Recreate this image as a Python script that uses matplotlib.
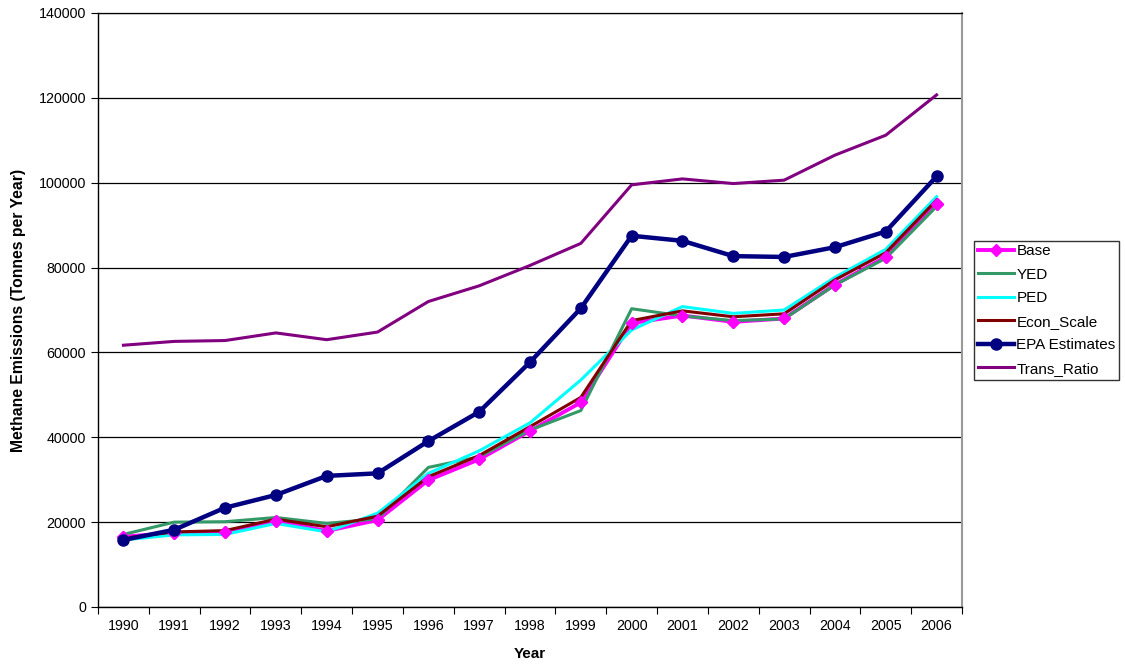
import matplotlib
matplotlib.use("Agg")
import matplotlib.pyplot as plt
import numpy as np

years = ["1990", "1991", "1992", "1993", "1994", "1995", "1996", "1997", "1998",
         "1999", "2000", "2001", "2002", "2003", "2004", "2005", "2006"]
base = [16600, 17400, 17600, 20300, 17900, 20500, 29900, 34800, 41500, 48200,
        66900, 68700, 67200, 68000, 76000, 82500, 94900]
yed = [17100, 20000, 20100, 21100, 19700, 20800, 32900, 35400, 41700, 46300,
       70300, 68600, 67500, 67900, 75900, 82200, 94400]
ped = [15800, 17000, 17100, 19700, 17700, 22100, 31500, 36800, 43400, 53500,
       65300, 70800, 69200, 70000, 77700, 84300, 96700]
econ_scale = [16200, 17700, 18000, 20700, 18900, 21400, 30700, 35700, 42500, 49400,
              67500, 69800, 68400, 69100, 77100, 83500, 95900]
epa = [15800, 18200, 23400, 26400, 30900, 31500, 39100, 46000, 57700, 70400,
       87500, 86300, 82700, 82500, 84800, 88500, 101500]
trans_ratio = [61700, 62600, 62800, 64600, 63000, 64800, 72000, 75700, 80500, 85700,
               99500, 100900, 99800, 100600, 106500, 111200, 120700]
y_ticks = [0, 20000, 40000, 60000, 80000, 100000, 120000, 140000]

plt.rcParams['font.family'] = ['Liberation Sans', 'DejaVu Sans']

fig = plt.figure(figsize=(11.25, 6.67), dpi=100)
ax = fig.add_axes([98/1125, 1-607/667, (962-98)/1125, (607-13)/667])

x = np.arange(len(years))
ax.plot(x, base, color='#FF00FF', lw=2.8, marker='D', ms=6.5, label='Base', zorder=3)
ax.plot(x, yed, color='#339966', lw=2.2, label='YED', zorder=3)
ax.plot(x, ped, color='#00FFFF', lw=2.2, label='PED', zorder=3)
ax.plot(x, econ_scale, color='#800000', lw=2.2, label='Econ_Scale', zorder=3)
ax.plot(x, epa, color='#000080', lw=3.2, marker='o', ms=8, label='EPA Estimates', zorder=4)
ax.plot(x, trans_ratio, color='#800080', lw=2.2, label='Trans_Ratio', zorder=3)
# base markers drawn above the overlapping scenario lines
ax.plot(x, base, linestyle='none', color='#FF00FF', marker='D', ms=6.5, zorder=3.5)

ax.set_xlim(-0.5, len(years) - 0.5)
ax.set_ylim(0, 140000)
ax.set_yticks(y_ticks)
ax.set_yticklabels([str(v) for v in y_ticks], fontsize=10.3)
ax.yaxis.grid(True, color='black', lw=0.9)
ax.set_axisbelow(True)

ax.set_xticks(np.arange(-0.5, len(years), 1.0))
ax.set_xticklabels([])
ax.set_xticks(x, minor=True)
ax.set_xticklabels(years, minor=True, fontsize=10.3)
ax.tick_params(axis='x', which='minor', length=0, pad=9)
ax.tick_params(axis='x', which='major', length=5, direction='out')
ax.tick_params(axis='y', length=5, direction='out')

for s in ['left', 'bottom']:
    ax.spines[s].set_color('black')
    ax.spines[s].set_linewidth(1.0)
ax.spines['right'].set_color('#999999')
ax.spines['right'].set_linewidth(1.5)
ax.spines['top'].set_color('black')
ax.spines['top'].set_linewidth(0.9)

ax.set_xlabel('Year', fontsize=11, fontweight='bold', labelpad=10)
ax.set_ylabel('Methane Emissions (Tonnes per Year)', fontsize=11.3, fontweight='bold', labelpad=9)

leg = ax.legend(loc='center left', bbox_to_anchor=(974/1125, 1-310/667), bbox_transform=fig.transFigure,
                frameon=True, fancybox=False, shadow=False, fontsize=11,
                handlelength=2.4, handletextpad=0.12, borderpad=0.25, labelspacing=0.62,
                borderaxespad=0)
leg.get_frame().set_edgecolor('black')
leg.get_frame().set_linewidth(1.0)

fig.savefig('out.png', dpi=100)
